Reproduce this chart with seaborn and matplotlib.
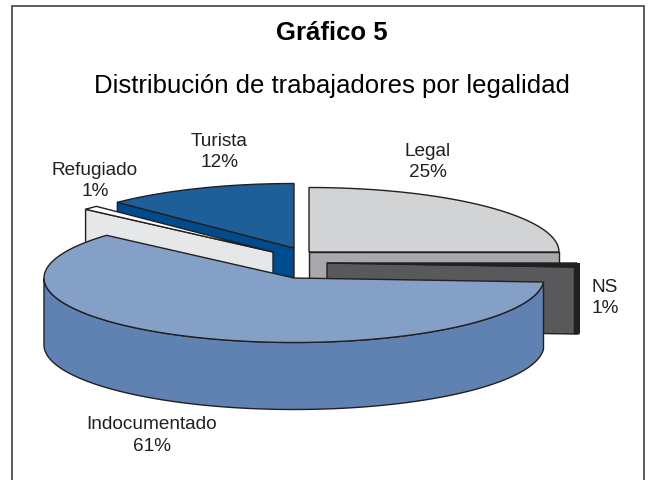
import numpy as np
import matplotlib
matplotlib.use('Agg')
import matplotlib.pyplot as plt
from matplotlib.patches import Polygon, Rectangle
import seaborn as sns

sns.set_theme(style='white')
plt.rcParams['font.family'] = ['Liberation Sans', 'DejaVu Sans']

categories = ['Legal', 'NS', 'Indocumentado', 'Refugiado', 'Turista']
shares = [25.0, 1.0, 60.51, 1.0, 12.49]

top_colors = sns.color_palette(['#d1d3d4', '#231f20', '#85a0c6', '#ffffff', '#1f5f99'])
wall_colors = sns.color_palette(['#a7a9ac', '#58595b', '#5f82b2', '#e6e7e8', '#004b8d'])

# layout, in picture pixels
apex = {'Legal': (309, 252), 'NS': (327, 263), 'Indocumentado': (294, 278),
        'Refugiado': (273, 252), 'Turista': (294, 248)}
label_pos = {'Legal': (428, 162), 'NS': (605, 298), 'Indocumentado': (152, 435.5),
             'Refugiado': (95, 181), 'Turista': (219, 152)}
draw_order = ['Turista', 'Refugiado', 'Legal', 'NS', 'Indocumentado']
rx, ry, depth = 250, 64.5, 67
edge = '#231f20'


def rim(c, t0, t1, n=120):
    # t runs clockwise from the top of the ellipse, in degrees
    t = np.radians(np.linspace(t0, t1, n))
    return np.column_stack([c[0] + rx * np.sin(t), c[1] - ry * np.cos(t)])


def draw_slice(ax, c, t0, t1, top, wall, thick=False):
    drop = np.array([0, depth])
    for t, visible in ((t0, 180 < t0 < 360), (t1, 0 < t1 < 180)):
        if visible:
            p = rim(c, t, t, 1)[0]
            pts = [c, p, p + drop, np.array(c) + drop]
            ax.add_patch(Polygon(pts, fc=wall, ec=edge, lw=1, joinstyle='round'))
    a0, a1 = max(t0, 90), min(t1, 270)
    if a1 > a0:
        arc = rim(c, a0, a1)
        pts = np.vstack([arc, (arc + drop)[::-1]])
        ax.add_patch(Polygon(pts, fc=top if thick else wall, ec=top if thick else edge,
                             lw=4 if thick else 1))
    pts = np.vstack([[c], rim(c, t0, t1)])
    ax.add_patch(Polygon(pts, fc=top, ec=edge, lw=1))


fig, ax = plt.subplots(figsize=(6.55, 4.8), dpi=100)
fig.subplots_adjust(0, 0, 1, 1)
ax.set_xlim(0, 655)
ax.set_ylim(480, 0)
ax.axis('off')

ax.add_patch(Rectangle((11.5, 5.5), 632.5, 490, fc='white', ec='#414042', lw=1.2))

ends = np.cumsum(shares) * 3.6
starts = np.concatenate([[0], ends[:-1]])
bounds = {c: (s, e) for c, s, e in zip(categories, starts, ends)}
for name in draw_order:
    i = categories.index(name)
    draw_slice(ax, apex[name], bounds[name][0], bounds[name][1],
               top_colors[i], wall_colors[i], thick=name == 'NS')

for name, share in zip(categories, shares):
    x, y = label_pos[name]
    ax.text(x, y, f'{name}\n{share:.0f}%', ha='center', va='center', fontsize=13.7,
            color=edge, linespacing=1.35)

ax.text(332, 32.5, 'Gráfico 5', ha='center', va='center', fontsize=18.5,
        fontweight='bold', color='black')
ax.text(332, 86, 'Distribución de trabajadores por legalidad', ha='center', va='center',
        fontsize=18.5, color='black')

fig.savefig('out.png', dpi=100)
